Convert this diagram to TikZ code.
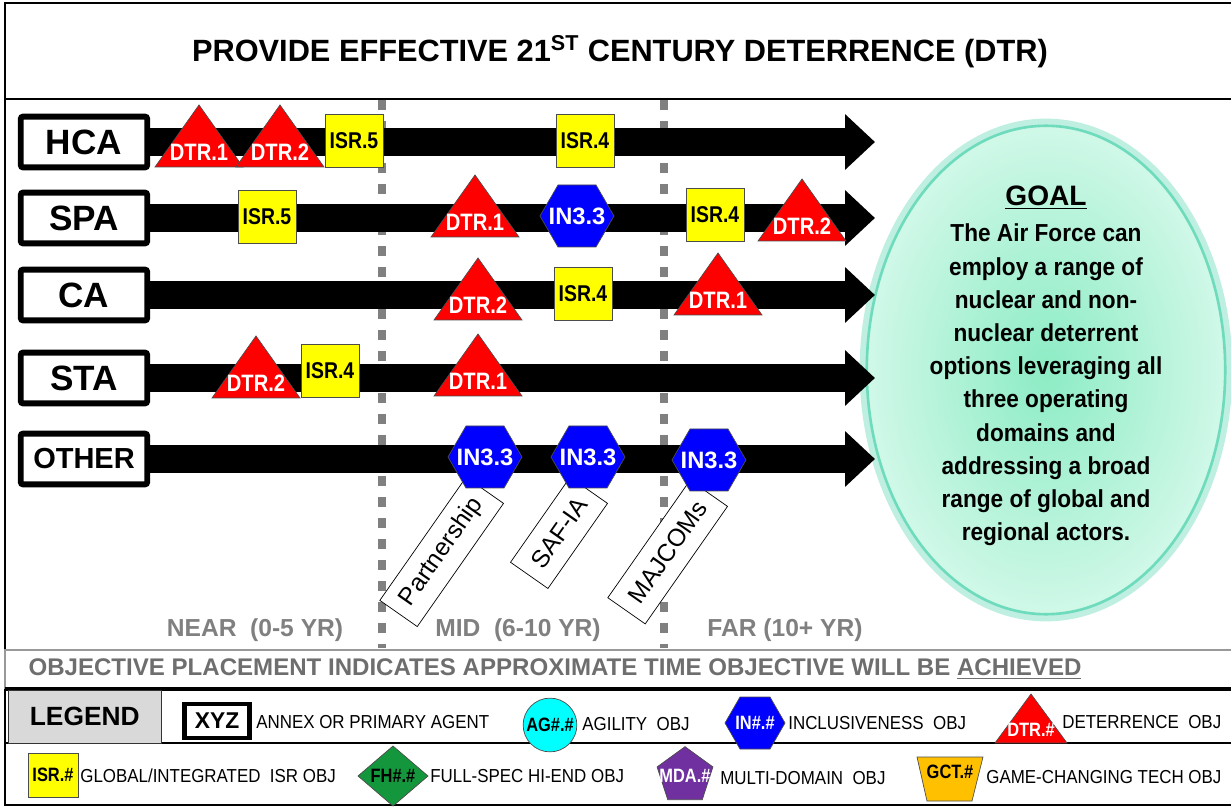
\documentclass[tikz,border=0pt]{standalone}
\usepackage{fontspec}
\setmainfont{Liberation Sans}
\newfontfamily\narrowfont[FakeStretch=0.85]{Liberation Sans}
\newfontfamily\legfont[FakeStretch=0.9]{Liberation Sans}
\newfontfamily\goalfont[FakeStretch=0.92]{Liberation Sans}
\usetikzlibrary{arrows.meta}
\usetikzlibrary{backgrounds}
\usetikzlibrary{shapes.geometric}

\definecolor{isryellow}{RGB}{255,255,0}
\definecolor{dtrred}{RGB}{255,0,0}
\definecolor{inblue}{RGB}{0,0,255}
\definecolor{agcyan}{RGB}{0,255,255}
\definecolor{fhgreen}{RGB}{20,150,60}
\definecolor{mdapurple}{RGB}{112,48,160}
\definecolor{gctorange}{RGB}{255,192,0}
\definecolor{goalin}{RGB}{140,236,196}
\definecolor{goalout}{RGB}{208,248,232}
\definecolor{goalrim}{RGB}{110,220,188}
\definecolor{legendgray}{RGB}{217,217,217}
\definecolor{textgray}{RGB}{110,110,110}

\tikzset{
  agent/.style={draw, fill=white, line width=3.4pt, rounded corners=1.5pt, minimum width=72pt, minimum height=29pt, inner sep=0pt, font=\fontsize{20}{24}\selectfont\bfseries},
  bar/.style={line width=15.9pt, -{Triangle[width=30.6pt,length=17pt]}},
  sep/.style={gray, line width=4.5pt, dash pattern=on 5.7pt off 6.2pt},
  isrbox/.style={draw=black!70, fill=isryellow, minimum width=33pt, minimum height=30pt, inner sep=0pt, font=\narrowfont\fontsize{13}{15}\selectfont\bfseries},
  dtrshape/.style={draw=black!70, fill=dtrred},
  dtrtext/.style={text=white, inner sep=0pt, font=\narrowfont\fontsize{13.5}{15}\selectfont\bfseries},
  inshape/.style={draw=black!70, fill=inblue},
  intext/.style={text=white, inner sep=0pt, font=\fontsize{13.5}{15}\selectfont\bfseries},
  partner/.style={draw, fill=white, rotate=55, anchor=east, minimum height=26pt, inner xsep=7pt, font=\fontsize{14}{16}\selectfont},
  period/.style={text=gray, font=\fontsize{14}{16}\selectfont\bfseries},
  legtext/.style={anchor=west, inner sep=0pt, font=\legfont\fontsize{10.7}{12}\selectfont},
  legmark/.style={inner sep=0pt, font=\narrowfont\fontsize{11}{13}\selectfont\bfseries},
}

\begin{document}
\begin{tikzpicture}[x=0.02cm, y=-0.02cm]
\useasboundingbox (0,0) rectangle (1231,807);
\clip (0,0) rectangle (1231,807);

% frame
\draw[line width=1.7pt] (5,3) rectangle (1240,99);
\draw[line width=1.2pt] (5,99) -- (5,805) -- (1240,805);
\draw[black!40, line width=1pt] (5,650) rectangle (1240,688);
\draw[line width=2pt] (5,689) -- (1240,689);
\draw[line width=0.8pt] (5,743) -- (1240,743);

\node[font=\fontsize{17.5}{20}\selectfont\bfseries] (title) at (620,52) {PROVIDE EFFECTIVE 21\textsuperscript{ST} CENTURY DETERRENCE (DTR)};

% goal and time periods, behind the arrows
\begin{scope}[on background layer]
\draw[goalrim!45, line width=5pt] (1046,370) ellipse [x radius=182, y radius=247];
\node[ellipse, draw=goalrim, line width=1.5pt, inner color=goalin, outer color=goalout, minimum width=204pt, minimum height=278pt] (goal) at (1046,370) {};
\draw[sep] (382,100) -- (382,648);
\draw[sep] (664,100) -- (664,648);
\end{scope}
\node[period] (near) at (255,630) {NEAR~~(0-5 YR)};
\node[period] (mid) at (518,630) {MID~~(6-10 YR)};
\node[period] (far) at (785,630) {FAR (10+ YR)};

\node[font=\fontsize{16}{19}\selectfont\bfseries] (goalhead) at (1046,198) {\underline{GOAL}};
\node[align=center, font=\goalfont\fontsize{14}{18.9}\selectfont\bfseries] (goaltext) at (1046,385)
  {The Air Force can\\employ a range of\\nuclear and non-\\nuclear deterrent\\options leveraging all\\three operating\\domains and\\addressing a broad\\range of global and\\regional actors.};

% agents and their arrows
\coordinate (tip) at (875,0);
\foreach \n/\t/\y in {hca/HCA/142, spa/SPA/218, ca/CA/295, sta/STA/378}
{
  \node[agent] (\n) at (84,\y) {\t};
  \begin{scope}[on background layer]
  \draw[bar] (\n.east) -- (\n.east -| tip);
  \end{scope}
}
\node[agent, font=\fontsize{16.5}{20}\selectfont\bfseries] (other) at (84,459) {OTHER};
\begin{scope}[on background layer]
\draw[bar] (other.east) -- (other.east -| tip);
\end{scope}

% partners below the inclusiveness objectives
\foreach \n/\x/\y/\t in {pship/485/490/Partnership, safia/589/490/SAF-IA, majcom/709/493/MAJCOMs}
  \node[partner] (\n) at (\x,\y) {\t};

% deterrence objectives
\foreach \n/\x/\y/\t in {d1/199/167/DTR.1, d2/280/167/DTR.2, d3/475/237/DTR.1, d4/802/241/DTR.2, d5/478/320/DTR.2, d6/718/315/DTR.1, d7/256/398/DTR.2, d8/478/396/DTR.1}
{
  \filldraw[dtrshape] (\x-44,\y) -- (\x,\y-62) -- (\x+44,\y) -- cycle;
  \node[dtrtext] (\n) at (\x,\y-15) {\t};
}

% isr objectives
\foreach \n/\x/\y/\t in {i1/354/141/ISR.5, i2/585/141/ISR.4, i3/267/217/ISR.5, i4/715/215/ISR.4, i5/583/294/ISR.4, i6/330/371/ISR.4}
  \node[isrbox] (\n) at (\x,\y) {\t};

% inclusiveness objectives
\foreach \n/\x/\y in {h1/577/216, h2/485/457, h3/588/457, h4/709/460}
{
  \filldraw[inshape] (\x-37,\y) -- (\x-19,\y-31) -- (\x+19,\y-31) -- (\x+37,\y) -- (\x+19,\y+31) -- (\x-19,\y+31) -- cycle;
  \node[intext] (\n) at (\x,\y) {IN3.3};
}

\node[font=\fontsize{13.7}{16}\selectfont\bfseries, text=textgray] (objline) at (555,669) {OBJECTIVE PLACEMENT INDICATES APPROXIMATE TIME OBJECTIVE WILL BE \underline{ACHIEVED}};

% legend
\node[draw=black!80, fill=legendgray, anchor=north west, minimum width=87pt, minimum height=30pt, font=\fontsize{15}{18}\selectfont\bfseries] (legend) at (8,690) {LEGEND};
\node[draw, line width=2.3pt, minimum width=37pt, minimum height=19pt, inner sep=0pt, font=\fontsize{13}{15}\selectfont\bfseries] (xyz) at (217,721) {XYZ};
\node[legtext] (xyztext) at (256,722) {ANNEX OR PRIMARY AGENT};
\node[circle, draw=black!70, fill=agcyan, minimum size=30.6pt, legmark] (agleg) at (550,725) {AG\#.\#};
\node[legtext] (agtext) at (582,724) {AGILITY~~OBJ};
\filldraw[inshape] (725,723) -- (740,697) -- (770,697) -- (785,723) -- (770,749) -- (740,749) -- cycle;
\node[legmark, text=white] (inleg) at (755,723) {IN\#.\#};
\node[legtext] (intext) at (788,723) {INCLUSIVENESS~~OBJ};
\filldraw[dtrshape] (995,743) -- (1031,694) -- (1067,743) -- cycle;
\node[legmark, text=white] (dtrleg) at (1031,730) {DTR.\#};
\node[legtext] (dtrtext) at (1062,722) {DETERRENCE~~OBJ};

\node[draw=black!70, fill=isryellow, minimum width=28.4pt, minimum height=25pt, legmark] (isrleg) at (53,775) {ISR.\#};
\node[legtext] (isrtext) at (80,776) {GLOBAL/INTEGRATED~~ISR OBJ};
\filldraw[draw=black!70, fill=fhgreen] (358,776) -- (393,746) -- (428,776) -- (393,806) -- cycle;
\node[legmark] (fhleg) at (393,776) {FH\#.\#};
\node[legtext] (fhtext) at (430,776) {FULL-SPEC HI-END OBJ};
\node[regular polygon, regular polygon sides=5, draw=black!70, fill=mdapurple, minimum size=33.4pt, inner sep=0pt] (mdashape) at (685,776) {};
\node[legmark, text=white] (mdaleg) at (685,776) {MDA.\#};
\node[legtext] (mdatext) at (720,778) {MULTI-DOMAIN~~OBJ};
\filldraw[draw=black!70, fill=gctorange] (917,757) -- (983,757) -- (972,801) -- (927,801) -- cycle;
\node[legmark] (gctleg) at (950,772) {GCT.\#};
\node[legtext] (gcttext) at (986,777) {GAME-CHANGING TECH OBJ};
\end{tikzpicture}
\end{document}
